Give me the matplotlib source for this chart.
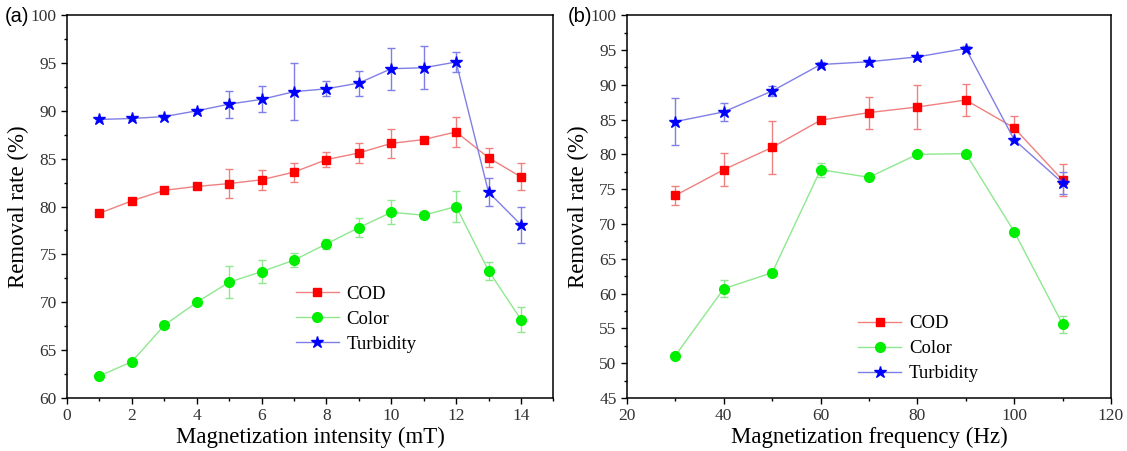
import matplotlib
matplotlib.use("Agg")
import matplotlib.pyplot as plt
from matplotlib.lines import Line2D
from matplotlib.ticker import MultipleLocator

plt.rcParams.update({
    "font.family": "serif",
    "font.serif": ["Liberation Serif", "DejaVu Serif"],
    "axes.linewidth": 1.1,
})

# ---- (a) magnetization intensity ----
intensity = [1, 2, 3, 4, 5, 6, 7, 8, 9, 10, 11, 12, 13, 14]
cod_a = [79.3, 80.6, 81.7, 82.1, 82.4, 82.8, 83.6, 84.9, 85.6, 86.6, 87.0, 87.8, 85.1, 83.1]
cod_a_err = [0.3, 0.3, 0.3, 0.3, 1.55, 1.05, 1.0, 0.75, 1.05, 1.55, 0.3, 1.6, 1.0, 1.4]
color_a = [62.3, 63.8, 67.6, 70.0, 72.1, 73.2, 74.4, 76.1, 77.8, 79.4, 79.1, 80.0, 73.3, 68.2]
color_a_err = [0.2, 0.2, 0.2, 0.2, 1.7, 1.2, 0.75, 0.5, 1.0, 1.25, 0.3, 1.65, 0.95, 1.35]
turb_a = [89.1, 89.2, 89.4, 90.0, 90.7, 91.2, 92.0, 92.3, 92.9, 94.4, 94.5, 95.1, 81.5, 78.1]
turb_a_err = [0.2, 0.2, 0.2, 0.2, 1.4, 1.35, 2.95, 0.8, 1.3, 2.2, 2.25, 1.0, 1.45, 1.9]

# ---- (b) magnetization frequency ----
frequency = [30, 40, 50, 60, 70, 80, 90, 100, 110]
cod_b = [74.1, 77.8, 81.0, 84.9, 86.0, 86.8, 87.8, 83.8, 76.3]
cod_b_err = [1.35, 2.35, 3.8, 0.3, 2.3, 3.2, 2.3, 1.65, 2.3]
color_b = [51.1, 60.7, 63.0, 77.8, 76.7, 80.0, 80.1, 68.9, 55.6]
color_b_err = [0.3, 1.25, 0.5, 1.0, 0.3, 0.3, 0.3, 0.3, 1.25]
turb_b = [84.7, 86.1, 89.1, 92.9, 93.3, 94.0, 95.2, 82.1, 75.9]
turb_b_err = [3.35, 1.3, 0.75, 0.3, 0.3, 0.3, 0.3, 0.2, 1.6]

series_style = [
    ("COD", "#ff0000", "#f08080", "s", 6.0),
    ("Color", "#00ee00", "#8fe88f", "o", 7.0),
    ("Turbidity", "#0000ff", "#7f7fe6", "*", 9.0),
]

fig = plt.figure(figsize=(11.27, 4.51), dpi=100)
ax_a = fig.add_axes([0.0595, 0.1175, 0.4315, 0.849])
ax_b = fig.add_axes([0.5563, 0.1175, 0.4295, 0.849])


def draw_panel(ax, x, data, anchor):
    handles = []
    for (label, mc, lc, mk, ms), (y, err) in zip(series_style, data):
        ax.errorbar(x, y, yerr=err, color=lc, ecolor=lc, lw=1.0, elinewidth=1.0,
                    capsize=2.6, capthick=1.0, marker=mk, markersize=ms,
                    markerfacecolor=mc, markeredgecolor=mc, zorder=3)
        handles.append(Line2D([], [], color=lc, lw=1.0, marker=mk, markersize=ms,
                              markerfacecolor=mc, markeredgecolor=mc, label=label))
    ax.tick_params(which="both", direction="out", top=False, right=False,
                   labelsize=12.5, width=1.0)
    ax.tick_params(which="major", length=4)
    ax.tick_params(which="minor", length=2.5)
    for lab in ax.get_xticklabels() + ax.get_yticklabels():
        lab.set_color("#333333")
    ax.set_ylabel("Removal rate (%)", fontsize=16.5, labelpad=1)
    ax.legend(handles=handles, loc="upper left", bbox_to_anchor=anchor,
              frameon=False, fontsize=13.5, borderpad=0, borderaxespad=0,
              handlelength=2.3, handletextpad=0.4, labelspacing=0.42)


draw_panel(ax_a, intensity,
           [(cod_a, cod_a_err), (color_a, color_a_err), (turb_a, turb_a_err)],
           (0.47, 0.294))
ax_a.set_xlim(0, 15)
ax_a.set_ylim(60, 100)
ax_a.xaxis.set_major_locator(MultipleLocator(2))
ax_a.xaxis.set_minor_locator(MultipleLocator(1))
ax_a.yaxis.set_major_locator(MultipleLocator(5))
ax_a.yaxis.set_minor_locator(MultipleLocator(2.5))
ax_a.set_xlabel("Magnetization intensity (mT)", fontsize=16.5, labelpad=2)

draw_panel(ax_b, frequency,
           [(cod_b, cod_b_err), (color_b, color_b_err), (turb_b, turb_b_err)],
           (0.478, 0.216))
ax_b.set_xlim(20, 120)
ax_b.set_ylim(45, 100)
ax_b.xaxis.set_major_locator(MultipleLocator(20))
ax_b.xaxis.set_minor_locator(MultipleLocator(10))
ax_b.yaxis.set_major_locator(MultipleLocator(5))
ax_b.yaxis.set_minor_locator(MultipleLocator(2.5))
ax_b.set_xlabel("Magnetization frequency (Hz)", fontsize=16.5, labelpad=2)

fig.text(0.004, 0.963, "(a)", fontsize=14.5, family="Liberation Sans", va="center")
fig.text(0.504, 0.963, "(b)", fontsize=14.5, family="Liberation Sans", va="center")

fig.savefig("out.png", dpi=100, facecolor="white")
